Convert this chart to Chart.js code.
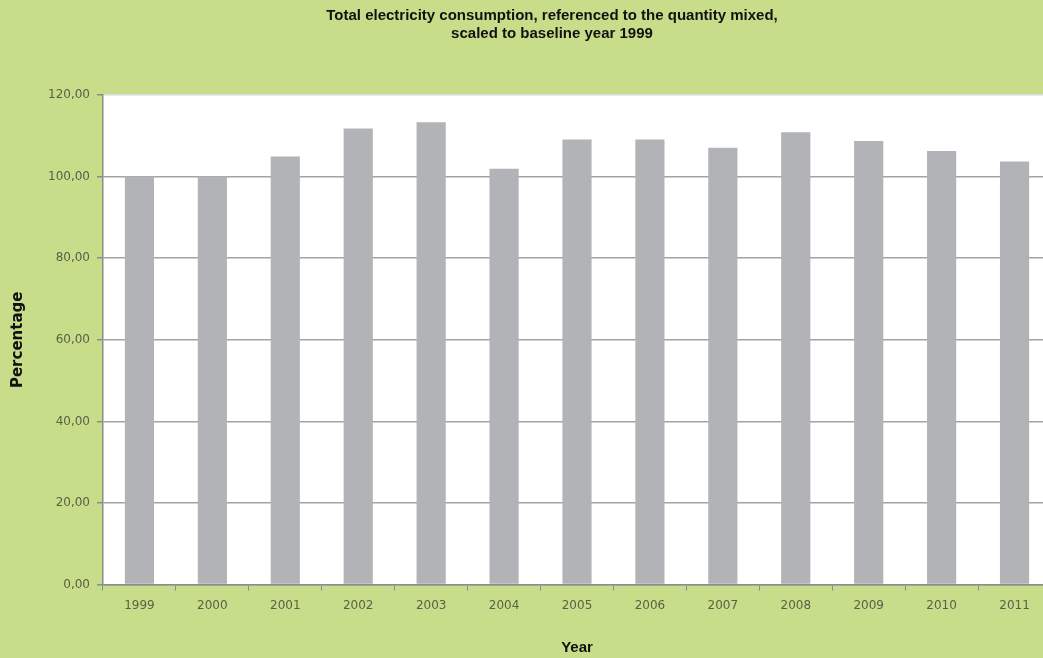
<!DOCTYPE html>
<html>
<head>
<meta charset="utf-8">
<script src="https://cdn.jsdelivr.net/npm/chart.js@4/dist/chart.umd.min.js"></script>
<style>
  html, body { margin: 0; padding: 0; overflow: hidden; background: #c8dd8a; }
  #wrap { width: 1100px; height: 658px; }
</style>
</head>
<body>
<div id="wrap"><canvas id="chart" width="1100" height="658"></canvas></div>
<script>
// Electricity consumption relative to the mixed quantity, 1999 = 100
const years = ['1999', '2000', '2001', '2002', '2003', '2004', '2005', '2006', '2007', '2008', '2009', '2010', '2011'];
const consumption = [100.0, 100.0, 104.9, 111.8, 113.3, 101.9, 109.1, 109.1, 107.1, 110.9, 108.7, 106.3, 103.7];
const yTicks = [0, 20, 40, 60, 80, 100, 120];
const titleLines = ['Total electricity consumption, referenced to the quantity mixed,', 'scaled to baseline year 1999'];

// White plotting area on the green page
const plotBackground = {
  id: 'plotBackground',
  beforeDraw(chart) {
    const { ctx, chartArea: a } = chart;
    ctx.save();
    ctx.fillStyle = '#ffffff';
    ctx.fillRect(a.left, a.top, a.right - a.left, a.bottom - a.top);
    ctx.restore();
  }
};

// Two-line heading, centred over the whole page (the plot runs off the right edge)
const pageTitle = {
  id: 'pageTitle',
  afterDraw(chart, args, opts) {
    const { ctx } = chart;
    ctx.save();
    ctx.fillStyle = opts.color;
    ctx.font = opts.font;
    ctx.textAlign = 'center';
    ctx.textBaseline = 'middle';
    opts.lines.forEach((line, i) => ctx.fillText(line, opts.x, opts.y + i * opts.lineHeight));
    ctx.restore();
  }
};

const fmt = v => v.toFixed(2).replace('.', ',');

new Chart(document.getElementById('chart'), {
  type: 'bar',
  data: {
    labels: years,
    datasets: [{
      data: consumption,
      backgroundColor: '#b2b3b7',
      borderWidth: 0,
      categoryPercentage: 0.8,
      barPercentage: 0.5
    }]
  },
  plugins: [plotBackground, pageTitle],
  options: {
    responsive: false,
    animation: false,
    layout: { padding: { top: 95, right: 49, bottom: 0, left: 0 } },
    plugins: {
      legend: { display: false },
      tooltip: { enabled: false },
      title: { display: false },
      pageTitle: {
        lines: titleLines,
        x: 552,
        y: 16,
        lineHeight: 18,
        color: '#111111',
        font: 'bold 15px "Liberation Sans", Arial, sans-serif'
      }
    },
    scales: {
      x: {
        offset: true,
        grid: {
          offset: true,
          drawOnChartArea: false,
          drawTicks: true,
          tickLength: 6,
          color: '#8c8c8c'
        },
        border: { display: true, color: '#8c8c8c', width: 1.5 },
        ticks: {
          color: '#5a6048',
          padding: 8,
          maxRotation: 0,
          font: { family: '"DejaVu Sans", Verdana, sans-serif', size: 12 }
        },
        title: {
          display: true,
          text: 'Year',
          color: '#111111',
          font: { family: '"Liberation Sans", Arial, sans-serif', size: 15, weight: 'bold', lineHeight: 1.2 },
          padding: { top: 18, bottom: 1 }
        }
      },
      y: {
        min: 0,
        max: 120,
        afterBuildTicks(scale) { scale.ticks = yTicks.map(v => ({ value: v })); },
        grid: {
          color: ctx => (ctx.tick && ctx.tick.value === 120) ? '#d9d9d9' : '#a3a3a3',
          lineWidth: 1.5,
          tickLength: 6,
          tickColor: '#8c8c8c'
        },
        border: { display: true, color: '#8c8c8c', width: 1.5 },
        ticks: {
          color: '#5a6048',
          padding: 7,
          font: { family: '"DejaVu Sans", Verdana, sans-serif', size: 12 },
          callback: v => fmt(v)
        },
        title: {
          display: true,
          text: 'Percentage',
          color: '#111111',
          font: { family: '"DejaVu Sans", Verdana, sans-serif', size: 15, weight: 'bold', lineHeight: 1.2 },
          padding: { top: 9, bottom: 14 }
        }
      }
    }
  }
});
</script>
</body>
</html>
